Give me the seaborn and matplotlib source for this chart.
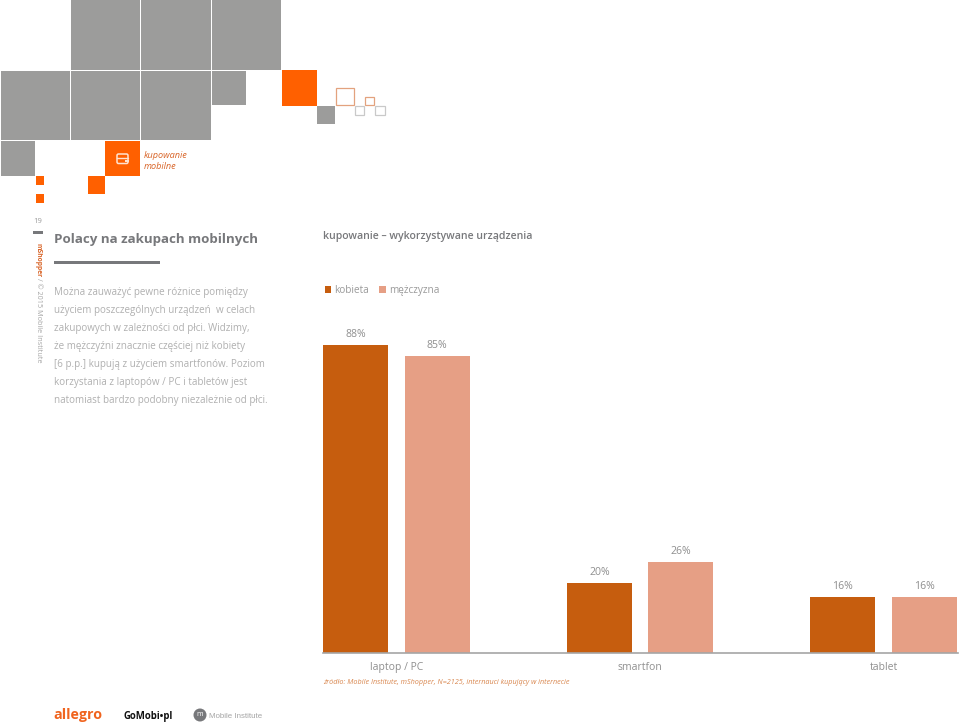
import matplotlib
matplotlib.use("Agg")
import matplotlib.pyplot as plt
from matplotlib.patches import Rectangle, Circle, FancyBboxPatch
import pandas as pd
import seaborn as sns

devices = ["laptop / PC", "smartfon", "tablet"]
kobieta = [88, 20, 16]
mezczyzna = [85, 26, 16]
series_names = ["kobieta", "mężczyzna"]

body_lines = [
    "Można zauważyć pewne różnice pomiędzy",
    "użyciem poszczególnych urządzeń  w celach",
    "zakupowych w zależności od płci. Widzimy,",
    "że mężczyźni znacznie częściej niż kobiety",
    "[6 p.p.] kupują z użyciem smartfonów. Poziom",
    "korzystania z laptopów / PC i tabletów jest",
    "natomiast bardzo podobny niezależnie od płci.",
]

WOMAN, MAN = "#c65d0e", "#e69f85"
GRAY, ORANGE = "#9c9c9b", "#ff6000"
W, H = 960, 725

sns.set_theme(style="white")
plt.rcParams["font.family"] = ["Open Sans", "DejaVu Sans"]

fig = plt.figure(figsize=(W / 100, H / 100), dpi=100, facecolor="white")

# page decoration in pixel coordinates
bg = fig.add_axes([0, 0, 1, 1])
bg.set_xlim(0, W)
bg.set_ylim(H, 0)
bg.axis("off")

def sq(x0, y0, x1, y1, c):
    bg.add_patch(Rectangle((x0, y0), x1 - x0, y1 - y0, fc=c, ec="none"))

def box(x0, y0, x1, y1, c):
    bg.add_patch(Rectangle((x0, y0), x1 - x0, y1 - y0, fc="none", ec=c, lw=0.9))

for r in [(70.5, 0, 140, 70), (141, 0, 210.5, 70), (211.5, 0, 281, 70),
          (0.5, 71, 69.5, 140), (70.5, 71, 140, 140), (141, 71, 210.5, 140),
          (211.5, 71, 245.5, 105), (0.5, 141, 35, 175.5), (317, 106, 335, 124)]:
    sq(*r, GRAY)
for r in [(281.5, 70, 316.5, 105.5), (105, 141, 140, 176), (87.5, 176, 105, 193.5),
          (35.5, 176, 44, 185), (35.5, 194, 44, 203)]:
    sq(*r, ORANGE)
box(335.5, 87.5, 353.5, 105, "#e3a27e")
box(364.5, 96.5, 374, 105, "#e3a27e")
box(354.5, 105.5, 364, 115, "#c9c9c9")
box(374.5, 105.5, 384.5, 115, "#c9c9c9")

# wallet icon
bg.add_patch(FancyBboxPatch((117, 154), 11, 9.5, boxstyle="round,pad=0,rounding_size=1.5",
                            fc="none", ec="#ffe3d0", lw=1.1))
bg.plot([117, 128], [157.5, 157.5], color="#ffe3d0", lw=1)
sq(124.5, 159.5, 129, 162, "#ffe3d0")

bg.text(143.5, 155, "kupowanie", color="#d9662a", style="italic", fontsize=6.6, va="center")
bg.text(143.5, 166, "mobilne", color="#d9662a", style="italic", fontsize=6.6, va="center")

bg.text(38, 221, "19", color="#9a9a9a", fontsize=5.5, ha="center", va="center")
sq(33, 231, 43, 233.5, "#77787b")
bg.text(38, 243, "mShopper", color="#d9662a", rotation=-90, fontsize=4.9,
        fontweight="bold", ha="center", va="top")
bg.text(38, 278, "/ © 2015 Mobile Institute", color="#a5a5a5", rotation=-90, fontsize=5.2,
        ha="center", va="top")

bg.text(54, 239, "Polacy na zakupach mobilnych", color="#77787b", fontsize=9.6,
        fontweight="bold", va="center")
sq(54, 261, 160, 263.5, "#77787b")

for i, line in enumerate(body_lines):
    bg.text(54, 292 + i * 18, line, color="#b0b0b0", fontsize=7.15, va="center")

bg.text(323, 236.5, "kupowanie – wykorzystywane urządzenia", color="#77787b",
        fontsize=7.55, fontweight="semibold", va="center")

bg.text(323.5, 683, "źródło: Mobile Institute, mShopper, N=2125, internauci kupujący w internecie",
        color="#d9874f", style="italic", fontsize=5.25, va="center")

# logos
bg.text(53.5, 715, "allegro", color="#f0641e", fontsize=10.3, fontweight="bold", va="center")
bg.text(123, 716, "GoMobi•pl", color="#111111", fontsize=6.9, fontweight="bold", va="center")
bg.add_patch(Circle((200, 715), 6.5, fc="#77787b", ec="none"))
bg.text(200, 715, "m", color="white", fontsize=5, ha="center", va="center")
bg.text(209, 716, "Mobile Institute", color="#a5a5a5", fontsize=5.7, va="center",
        family="Liberation Sans")

# chart
left, right, top, bottom = 323, 958, 303, 653
ax = fig.add_axes([left / W, 1 - bottom / H, (right - left) / W, (bottom - top) / H])
ax.patch.set_alpha(0)

df = pd.DataFrame({
    "device": devices * 2,
    "series": [series_names[0]] * 3 + [series_names[1]] * 3,
    "value": kobieta + mezczyzna,
})
sns.barplot(data=df, x="device", y="value", hue="series", order=devices,
            hue_order=series_names, palette=[WOMAN, MAN], width=0.667, gap=0.2,
            saturation=1, errorbar=None, linewidth=0, ax=ax)

ax.set_xlim(-0.302, 2.306)
ax.set_ylim(0, 100)
ax.set_xlabel("")
ax.set_ylabel("")
ax.set_yticks([])
ax.tick_params(axis="x", length=0, labelsize=7.5, labelcolor="#8f8f8f", pad=6.5)
for s in ["top", "left", "right"]:
    ax.spines[s].set_visible(False)
ax.spines["bottom"].set_color("#a6a6a6")
ax.spines["bottom"].set_linewidth(1.2)

for c in ax.containers:
    ax.bar_label(c, fmt="%g%%", color="#8f8f8f", fontsize=7.6, padding=3.5)

handles, labels = ax.get_legend_handles_labels()
ax.legend(handles, labels, loc="upper left", bbox_to_anchor=(0.003, 1.052), frameon=False, ncol=2,
          fontsize=7.2, labelcolor="#9a9a9a", handlelength=0.65, handleheight=0.65,
          handletextpad=0.3, columnspacing=1.0, borderpad=0, borderaxespad=0)

fig.savefig("out.png", dpi=100, facecolor="white")
